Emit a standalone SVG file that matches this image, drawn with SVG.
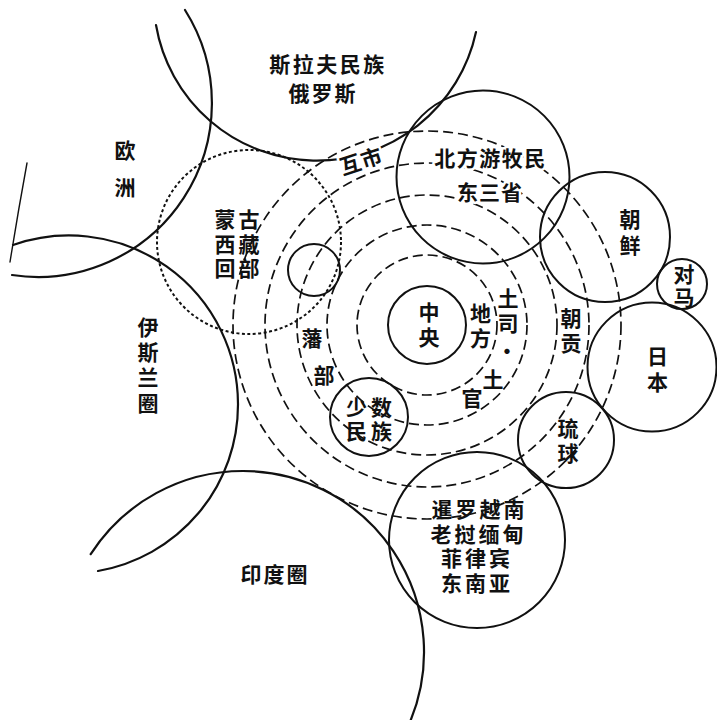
<svg xmlns="http://www.w3.org/2000/svg" width="717" height="720" viewBox="0 0 717 720">
<style>
.s{fill:none;stroke:#111;stroke-width:2}
.d{fill:none;stroke:#111;stroke-width:1.7;stroke-dasharray:10 5}
.o{fill:none;stroke:#111;stroke-width:2;stroke-dasharray:3 2.5}
.a{fill:none;stroke:#111;stroke-width:2.2;stroke-linecap:round}
text{font-family:"Noto Sans CJK SC","Noto Sans CJK TC",sans-serif;font-size:21px;font-weight:700;fill:#111;text-anchor:middle;dominant-baseline:central}
.v{writing-mode:vertical-rl}
.h{stroke:#fff;stroke-width:5;paint-order:stroke;stroke-linejoin:round}
</style>
<rect width="717" height="720" fill="#fff"/>
<g id="rings">
<circle class="d" cx="427" cy="325" r="70"/>
<circle class="d" cx="427" cy="325" r="100"/>
<circle class="d" cx="427" cy="325" r="130"/>
<circle class="d" cx="427" cy="325" r="162"/>
<circle class="d" cx="427" cy="325" r="194"/>
</g>
<g id="spheres">
<g id="slav"><path class="a" d="M156,25 A163,163 0 0 0 476,32"/><text letter-spacing="2.5"><tspan x="328" y="63">斯拉夫民族</tspan><tspan x="323" y="92" letter-spacing="2">俄罗斯</tspan></text></g>
<g id="europe"><path class="a" d="M185,10 A174,174 0 0 1 12,275"/><path class="a" style="stroke-width:1.4" d="M27,163 Q18,212 10,262"/><text class="v" x="125" y="177" letter-spacing="16">欧洲</text></g>
<g id="islam"><path class="a" d="M13,245 A169,169 0 0 1 238,404 A169,169 0 0 1 98,571"/><text class="v" x="148" y="367" letter-spacing="4.3">伊斯兰圈</text></g>
<g id="india"><path class="a" d="M90.7,554.2 A181,181 0 0 1 243,471 A181,181 0 0 1 410.6,720.4"/><text x="275" y="573" letter-spacing="2">印度圈</text></g>
</g>
<g id="mongol"><circle class="o" cx="249" cy="242" r="92"/><text letter-spacing="3"><tspan x="238.5" y="218">蒙古</tspan><tspan x="238.5" y="243">西藏</tspan><tspan x="238.5" y="267">回部</tspan></text></g>
<g id="hushi"><text class="h" x="361" y="160" transform="rotate(-18 361 160)" letter-spacing="1">互市</text></g>
<g id="center"><circle class="s" cx="427" cy="325" r="39"/><text class="v" x="429" y="326.5" letter-spacing="4">中央</text></g>
<g id="local"><text class="v" x="480.5" y="327.5" letter-spacing="4">地方</text></g>
<g id="tusi"><text><tspan x="508" y="297">土</tspan><tspan x="508" y="322">司</tspan><tspan x="507" y="350">·</tspan><tspan x="493" y="378">土</tspan><tspan x="472" y="397">官</tspan></text></g>
<g id="fanbu"><circle class="s" cx="314" cy="270" r="26"/><text><tspan x="312" y="337">藩</tspan><tspan x="324" y="374">部</tspan></text></g>
<g id="minority"><circle class="s" cx="369" cy="417" r="39"/><text letter-spacing="4"><tspan x="371" y="406">少数</tspan><tspan x="371" y="430">民族</tspan></text></g>
<g id="tribute"><text class="v" x="571" y="332.5" letter-spacing="4">朝贡</text></g>
<g id="north"><circle class="s" cx="483" cy="177" r="86.5"/><text class="h"><tspan x="490.5" y="157" letter-spacing="1.5">北方游牧民</tspan><tspan x="490" y="191" letter-spacing="1">东三省</tspan></text></g>
<g id="korea"><circle class="s" cx="605" cy="237" r="65"/><text class="v" x="630" y="234.5" letter-spacing="5">朝鲜</text></g>
<g id="tsushima"><circle class="s" cx="682" cy="284" r="25"/><text class="v" x="684" y="286.5" letter-spacing="2">对马</text></g>
<g id="japan"><circle class="s" cx="652" cy="367" r="64.5"/><text class="v" x="657.5" y="371.5" letter-spacing="5">日本</text></g>
<g id="ryukyu"><circle class="s" cx="566" cy="440" r="48"/><text class="v" x="568" y="443" letter-spacing="4">琉球</text></g>
<g id="sea"><circle class="s" cx="477" cy="540" r="88"/><text letter-spacing="3"><tspan x="479.5" y="508">暹罗越南</tspan><tspan x="478.5" y="533">老挝缅甸</tspan><tspan x="477" y="557">菲律宾</tspan><tspan x="477" y="582">东南亚</tspan></text></g>
</svg>
